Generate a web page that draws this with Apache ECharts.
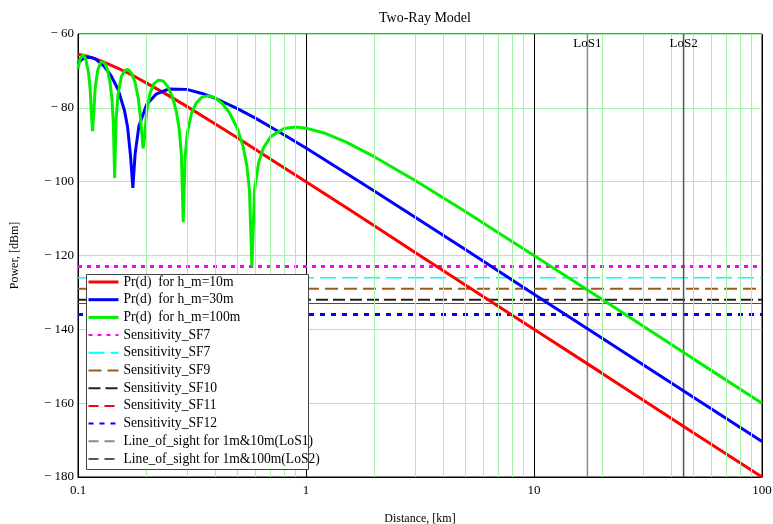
<!DOCTYPE html>
<html>
<head>
<meta charset="utf-8">
<title>Two-Ray Model</title>
<script src="https://cdn.jsdelivr.net/npm/echarts@6/dist/echarts.min.js"></script>
<style>
  html, body { margin: 0; padding: 0; background: #fff; }
  #main { width: 773px; height: 524px; }
</style>
</head>
<body>
<div id="main"></div>
<script>
// distance [km] / received power [dBm]
var distRed = [0.1, 0.11, 0.12, 0.13, 0.15, 0.17, 0.2, 0.25, 0.3, 0.4, 0.5, 0.7, 1, 1.5, 2, 3, 5, 7, 10, 20, 50, 100];
var powerRed = [-65.5, -66.0, -66.8, -67.6, -69.3, -70.9, -73.3, -76.7, -79.6, -84.4, -88.1, -93.9, -100, -107, -112, -119.1, -128, -133.8, -140, -152, -168, -180];

var distBlue = [0.1, 0.105, 0.11, 0.115, 0.12, 0.13, 0.14, 0.15, 0.16, 0.165, 0.17, 0.174, 0.178, 0.185, 0.2, 0.22, 0.25, 0.3, 0.35, 0.4, 0.5, 0.6, 0.8, 1, 1.5, 2, 3, 5, 10, 20, 50, 100];
var powerBlue = [-67.9, -66.7, -66.3, -66.4, -66.9, -68.7, -71.4, -75.1, -80.8, -85.2, -93.1, -101.7, -92.6, -84.9, -79.1, -76.3, -74.9, -75.0, -76.1, -77.4, -80.2, -82.8, -87.3, -90.9, -97.7, -102.6, -109.6, -118.4, -130.5, -142.5, -158.4, -170.4];

var distGreen = [0.1, 0.102, 0.105, 0.108, 0.111, 0.113, 0.1145, 0.1158, 0.117, 0.119, 0.122, 0.126, 0.13, 0.134, 0.138, 0.141, 0.143, 0.1448, 0.147, 0.15, 0.155, 0.16, 0.166, 0.172, 0.178, 0.184, 0.188, 0.193, 0.196, 0.2, 0.207, 0.215, 0.225, 0.236, 0.248, 0.26, 0.27, 0.278, 0.284, 0.2895, 0.295, 0.302, 0.315, 0.33, 0.35, 0.375, 0.4, 0.43, 0.46, 0.5, 0.53, 0.55, 0.565, 0.579, 0.595, 0.62, 0.65, 0.7, 0.8, 0.9, 1, 1.2, 1.5, 2, 3, 5, 7, 10, 20, 50, 100];
var powerGreen = [-69.4, -66.8, -65.6, -66.7, -70.1, -74.7, -81.4, -86.3, -82.4, -74.5, -69.8, -67.6, -67.6, -69.2, -72.8, -77.8, -84.6, -99, -82.9, -76.1, -71.6, -69.9, -69.6, -70.7, -73.1, -77.5, -82.8, -91, -87.9, -81, -76, -73.5, -72.5, -72.7, -74.3, -77.2, -81, -85.8, -92.6, -111, -93.2, -86.6, -81.4, -78.7, -77.1, -76.7, -77.3, -78.9, -81.2, -85.6, -90.5, -95.6, -102.4, -123, -102.1, -94.8, -90.9, -87.8, -85.6, -85.2, -85.5, -86.8, -89.3, -93.3, -99.6, -108.1, -113.9, -120, -132, -148, -160];

// LoRa sensitivities [dBm] and line-of-sight distances [km]
var sensNames = ['Sensitivity_SF7', 'Sensitivity_SF7 ', 'Sensitivity_SF9', 'Sensitivity_SF10', 'Sensitivity_SF11', 'Sensitivity_SF12'];
var sensValues = [-123, -126, -129, -132, -133, -136];
var losNames = ['Line_of_sight for 1m&10m(LoS1)', 'Line_of_sight for 1m&100m(LoS2)'];
var losLabels = ['LoS1', 'LoS2'];
var losDist = [17.15, 45.3];

// minor log grid lines
var minorTicks = [0.2, 0.3, 0.4, 0.5, 0.6, 0.7, 0.8, 0.9, 2, 3, 4, 5, 6, 7, 8, 9, 20, 30, 40, 50, 60, 70, 80, 90];

var xMin = 0.1, xMax = 100, yMin = -180, yMax = -60;

function pairs(xs, ys) {
  return xs.map(function (x, i) { return [x, ys[i]]; });
}

var FONT = 'Liberation Serif';
var gridGreen = '#a6f0a6';

var sensStyles = [
  { color: '#ff00ff', width: 3, type: [4, 5] },
  { color: '#00ffff', width: 1.5, type: [16, 6] },
  { color: '#9a5a1e', width: 2, type: [13, 6] },
  { color: '#222222', width: 2, type: [12, 5] },
  { color: '#ff0000', width: 1, type: 'solid' },
  { color: '#0000ff', width: 3, type: [5, 6] }
];
var losStyles = [
  { color: '#8a8a8a', width: 1.5 },
  { color: '#555555', width: 1.5 }
];

var series = [];

// grid helper (vertical minor lines)
series.push({
  type: 'line',
  name: '_grid',
  data: [[xMin, yMax]],
  symbol: 'none',
  lineStyle: { width: 0 },
  silent: true,
  z: 1,
  markLine: {
    silent: true,
    symbol: 'none',
    label: { show: false },
    lineStyle: { color: gridGreen, width: 1, type: 'solid' },
    data: minorTicks.map(function (v) { return { xAxis: v }; })
  }
});

sensNames.forEach(function (name, i) {
  series.push({
    type: 'line',
    name: name,
    data: [[xMin, sensValues[i]], [xMax, sensValues[i]]],
    symbol: 'none',
    lineStyle: sensStyles[i],
    itemStyle: { color: sensStyles[i].color },
    z: 3
  });
});

losNames.forEach(function (name, i) {
  series.push({
    type: 'line',
    name: name,
    data: [[losDist[i], yMin], [losDist[i], yMax]],
    symbol: 'none',
    lineStyle: losStyles[i],
    itemStyle: { color: losStyles[i].color },
    z: 3,
    markPoint: {
      symbol: 'rect',
      symbolSize: [1, 1],
      itemStyle: { color: 'rgba(0,0,0,0)' },
      label: {
        show: true,
        position: 'inside',
        formatter: losLabels[i],
        color: '#000',
        fontFamily: FONT,
        fontSize: 13
      },
      data: [{ coord: [losDist[i], -62.5] }]
    }
  });
});

var curves = [
  { name: 'Pr(d)  for h_m=10m', color: '#ff0000', data: pairs(distRed, powerRed) },
  { name: 'Pr(d)  for h_m=30m', color: '#0000ff', data: pairs(distBlue, powerBlue) },
  { name: 'Pr(d)  for h_m=100m', color: '#00f000', data: pairs(distGreen, powerGreen) }
];
curves.forEach(function (c) {
  series.push({
    type: 'line',
    name: c.name,
    data: c.data,
    symbol: 'none',
    lineStyle: { color: c.color, width: 3 },
    itemStyle: { color: c.color },
    z: 4
  });
});

var legendData = curves.map(function (c) { return { name: c.name, lineStyle: { width: 3 } }; })
  .concat(sensNames.map(function (n, i) {
    return { name: n, lineStyle: { type: i === 4 ? [10, 6] : sensStyles[i].type } };
  }))
  .concat(losNames.map(function (n) {
    return { name: n, lineStyle: { type: [10, 6] } };
  }));

var chart = echarts.init(document.getElementById('main'));
chart.setOption({
  animation: false,
  backgroundColor: '#fff',
  title: {
    text: 'Two-Ray Model',
    left: 420,
    top: 6,
    textAlign: 'center',
    textStyle: { fontFamily: FONT, fontSize: 14, fontWeight: 'normal', color: '#000' }
  },
  grid: {
    left: 78, right: 11, top: 34, bottom: 47,
    outerBoundsMode: 'none',
    show: true, borderColor: '#000', borderWidth: 1, backgroundColor: 'transparent'
  },
  // legend frame (the legend text runs past it, as in the original)
  graphic: [{
    type: 'rect',
    left: 86,
    top: 274,
    z: 10,
    shape: { width: 222, height: 195 },
    style: { fill: '#fff', stroke: '#444', lineWidth: 1 }
  }],
  legend: {
    orient: 'vertical',
    left: 85,
    top: 274,
    z: 11,
    backgroundColor: 'transparent',
    padding: [1, 0, 0, 2],
    itemWidth: 30,
    itemHeight: 14,
    itemGap: 3.7,
    selectedMode: false,
    itemStyle: { opacity: 0 },
    textStyle: { fontFamily: FONT, fontSize: 13.6, color: '#000' },
    data: legendData
  },
  xAxis: {
    type: 'log',
    logBase: 10,
    min: xMin,
    max: xMax,
    name: 'Distance, [km]',
    nameLocation: 'middle',
    nameGap: 36,
    nameTextStyle: { fontFamily: FONT, fontSize: 12, color: '#000' },
    axisLine: { lineStyle: { color: '#000' } },
    axisTick: { show: false },
    axisLabel: { fontFamily: FONT, fontSize: 13, color: '#000', margin: 7 },
    splitLine: { show: true, lineStyle: { color: '#000', width: 1 } }
  },
  yAxis: {
    type: 'value',
    min: yMin,
    max: yMax,
    interval: 20,
    name: 'Power, [dBm]',
    nameLocation: 'middle',
    nameGap: 57,
    nameTextStyle: { fontFamily: FONT, fontSize: 12, color: '#000' },
    axisLine: { show: true, lineStyle: { color: '#000' } },
    axisTick: { show: false },
    axisLabel: {
      fontFamily: FONT, fontSize: 13, color: '#000', margin: 4,
      formatter: function (v) { return v < 0 ? '\u2212 ' + (-v) : String(v); }
    },
    splitLine: { show: true, lineStyle: { color: gridGreen, width: 1 } }
  },
  series: series
});
</script>
</body>
</html>
